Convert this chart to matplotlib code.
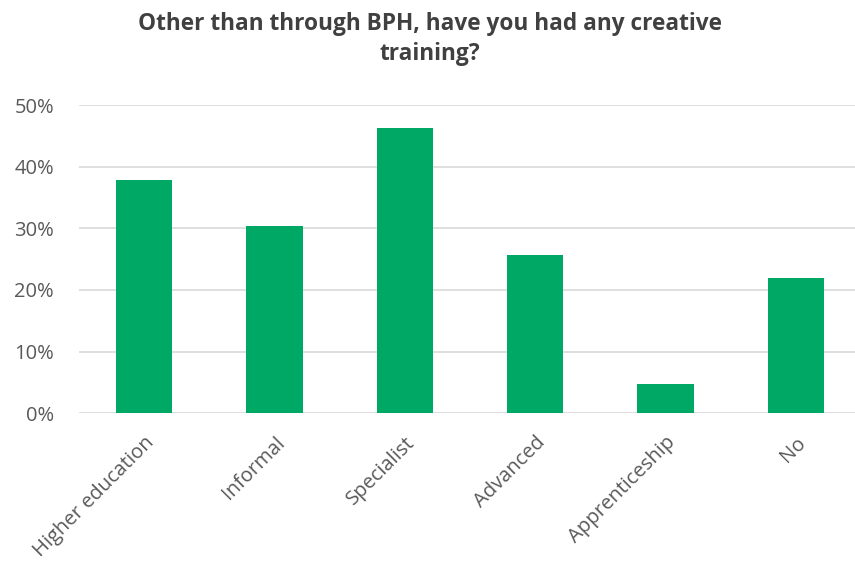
import matplotlib.pyplot as plt
from matplotlib.ticker import PercentFormatter

categories = ["Higher education", "Informal", "Specialist", "Advanced",
              "Apprenticeship", "No"]
shares = [0.378, 0.304, 0.462, 0.256, 0.048, 0.219]
y_ticks = [0.0, 0.1, 0.2, 0.3, 0.4, 0.5]

plt.rcParams['font.family'] = ['Open Sans', 'DejaVu Sans']

fig = plt.figure(figsize=(8.55, 5.65), dpi=100)
ax = fig.add_axes([79 / 855, 1 - 413.3 / 565, 782 / 855, (413.3 - 105) / 565])

x = list(range(len(categories)))
ax.bar(x, shares, width=0.43, color="#00A866", zorder=3)

ax.set_xlim(-0.5, len(categories) - 0.5)
ax.set_ylim(0, 0.5)
ax.set_yticks(y_ticks)
ax.yaxis.set_major_formatter(PercentFormatter(1.0, decimals=0))
ax.grid(axis="y", color="#D9D9D9", linewidth=1.2, zorder=0)
for side in ["top", "right", "left", "bottom"]:
    ax.spines[side].set_visible(False)
ax.tick_params(axis="both", length=0, colors="#595959")
ax.tick_params(axis="y", pad=18, labelsize=14.5)
ax.set_xticks(x)
ax.set_xticklabels(categories, rotation=45, ha="right", rotation_mode="anchor",
                   fontsize=14.5)
ax.tick_params(axis="x", pad=14)

fig.text(0.503, 0.978, "Other than through BPH, have you had any creative\ntraining?",
         ha="center", va="top", fontsize=16.3, fontweight="bold",
         color="#404040", linespacing=1.3)

fig.savefig("out.png", dpi=100, facecolor="white")
